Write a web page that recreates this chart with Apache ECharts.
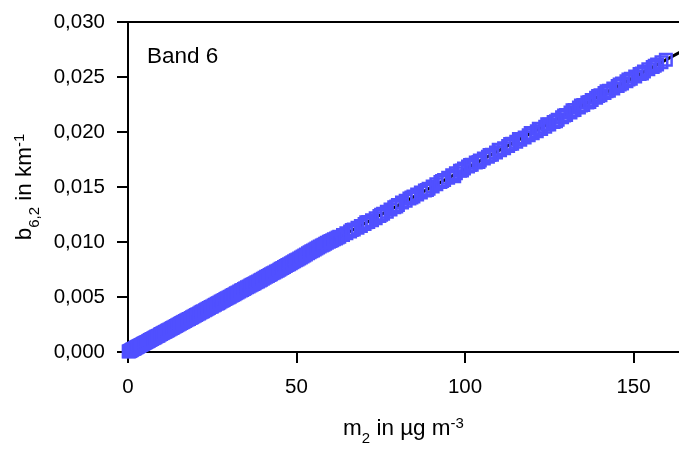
<!DOCTYPE html>
<html><head><meta charset="utf-8">
<script src="https://cdn.jsdelivr.net/npm/echarts@6/dist/echarts.min.js"></script>
<style>html,body{margin:0;padding:0;background:#fff}#c{width:679px;height:451px}</style>
</head><body><div id="c"></div>
<script>
const xTicks = [0, 50, 100, 150];
const yTicks = [0, 0.005, 0.010, 0.015, 0.020, 0.025, 0.030];
const bandLabel = 'Band 6';
const mass = [0.4,0.8,1.2,1.7,2.1,2.6,3.0,3.5,4.1,4.6,5.2,5.9,6.5,7.1,7.8,8.4,9.1,9.8,10.5,11.2,11.9,12.7,13.4,14.2,15.0,15.8,16.5,17.3,18.1,19.0,19.8,20.6,21.5,22.3,23.2,24.0,24.9,25.8,26.7,27.5,28.4,29.3,30.2,31.1,32.0,33.0,33.9,34.8,35.8,36.7,37.6,38.6,39.5,40.5,41.5,42.4,43.4,44.4,45.3,46.3,47.3,48.3,49.3,50.3,51.3,52.3,53.4,54.4,55.4,56.4,57.5,58.5,59.6,60.6,61.7,62.7,63.8,64.8,65.9,67.0,68.1,69.1,70.2,71.3,72.4,73.5,74.6,75.7,76.8,77.9,79.0,80.1,81.3,82.4,83.5,84.7,85.8,86.9,88.1,89.2,90.4,91.5,92.7,93.8,95.0,96.2,97.3,98.5,99.7,100.9,102.0,103.2,104.4,105.6,106.8,108.0,109.2,110.4,111.6,112.8,114.0,115.2,116.4,117.7,118.9,120.1,121.3,122.6,123.8,125.0,126.3,127.5,128.8,130.0,131.3,132.5,133.8,135.1,136.3,137.6,138.9,140.2,141.4,142.7,144.0,145.3,146.6,147.9,149.2,150.5,151.8,153.1,154.4,155.7,157.0,158.3,159.6,
 62.2,66.4,70.7,75.1,79.6,84.1,88.7,93.2,96.8,99.1,101.5,104.0,107.3,110.0,113.4,116.0,119.5,121.9,124.4,127.0,129.4,131.9,134.4,136.9,139.5,142.0,145.9,148.5,152.5,156.3];
const extinction = [0.00007,0.00013,0.00020,0.00028,0.00035,0.00043,0.00050,0.00058,0.00068,0.00077,0.00087,0.00098,0.00108,0.00118,0.00130,0.00140,0.00151,0.00163,0.00175,0.00186,0.00198,0.00211,0.00223,0.00236,0.00250,0.00263,0.00275,0.00288,0.00301,0.00316,0.00330,0.00343,0.00358,0.00371,0.00386,0.00399,0.00414,0.00429,0.00444,0.00458,0.00473,0.00488,0.00503,0.00518,0.00533,0.00549,0.00564,0.00579,0.00596,0.00611,0.00626,0.00642,0.00657,0.00674,0.00691,0.00706,0.00722,0.00739,0.00756,0.00773,0.00790,0.00807,0.00824,0.00842,0.00860,0.00878,0.00898,0.00915,0.00932,0.00949,0.00968,0.00984,0.01002,0.01016,0.01032,0.01047,0.01064,0.01079,0.01096,0.01113,0.01130,0.01146,0.01163,0.01181,0.01198,0.01216,0.01236,0.01256,0.01276,0.01296,0.01317,0.01336,0.01358,0.01376,0.01395,0.01414,0.01432,0.01449,0.01468,0.01485,0.01504,0.01524,0.01545,0.01564,0.01585,0.01606,0.01626,0.01648,0.01668,0.01686,0.01703,0.01722,0.01740,0.01758,0.01775,0.01794,0.01813,0.01833,0.01853,0.01873,0.01893,0.01912,0.01930,0.01950,0.01970,0.01988,0.02007,0.02028,0.02048,0.02068,0.02090,0.02111,0.02133,0.02155,0.02178,0.02200,0.02222,0.02246,0.02268,0.02290,0.02312,0.02334,0.02354,0.02374,0.02396,0.02419,0.02441,0.02462,0.02484,0.02505,0.02527,0.02549,0.02570,0.02592,0.02613,0.02635,0.02657,
 0.01040,0.01110,0.01180,0.01248,0.01322,0.01405,0.01472,0.01554,0.01598,0.01650,0.01700,0.01728,0.01790,0.01838,0.01890,0.01937,0.01992,0.02030,0.02070,0.02098,0.02150,0.02198,0.02240,0.02272,0.02328,0.02370,0.02432,0.02478,0.02532,0.02602];
const massDense = [0.2,0.6,1.0,1.4,1.9,2.4,2.8,3.3,3.8,4.4,4.9,5.5,6.2,6.8,7.5,8.1,8.8,9.5,10.2,10.9,11.6,12.3,13.1,13.8,14.6,15.4,16.2,16.9,17.7,18.6,19.4,20.2,21.1,21.9,22.8,23.6,24.5,25.4,26.3,27.1,28.0,28.9,29.8,30.7,31.6,32.5,33.5,34.4,35.3,36.3,37.2,38.1,39.1,40.0,41.0,42.0,42.9,43.9,44.9,45.8,46.8,47.8,48.8,49.8,50.8,51.8,52.8,53.9,54.9,55.9,56.9,58.0,59.0,60.1,61.1];
const extinctionDense = [0.00004,0.00010,0.00017,0.00024,0.00031,0.00040,0.00047,0.00055,0.00063,0.00073,0.00081,0.00092,0.00103,0.00113,0.00125,0.00135,0.00146,0.00158,0.00170,0.00181,0.00193,0.00205,0.00218,0.00230,0.00243,0.00256,0.00270,0.00281,0.00295,0.00309,0.00323,0.00336,0.00351,0.00365,0.00379,0.00393,0.00408,0.00423,0.00438,0.00451,0.00466,0.00481,0.00496,0.00511,0.00526,0.00541,0.00558,0.00573,0.00588,0.00604,0.00619,0.00634,0.00651,0.00666,0.00683,0.00700,0.00715,0.00731,0.00748,0.00764,0.00781,0.00798,0.00815,0.00833,0.00851,0.00869,0.00887,0.00906,0.00923,0.00940,0.00958,0.00976,0.00993,0.01009,0.01024];
const fitMass = [0, 170];
const fitB = [0, 0.02829];

const chart = echarts.init(document.getElementById('c'), null, {renderer: 'canvas'});
const FONT = 'Liberation Sans, Arial, sans-serif';
const scatterData = mass.map((m, i) => [m, extinction[i]])
  .concat(massDense.map((m, i) => [m, extinctionDense[i]]));
const fitData = fitMass.map((m, i) => [m, fitB[i]]);
const richSubSup = {
  sub: {fontFamily: FONT, fontSize: 15, verticalAlign: 'bottom', lineHeight: 26, color: '#000', padding: [0, 0, -4, 0]},
  sup: {fontFamily: FONT, fontSize: 15, verticalAlign: 'top', lineHeight: 26, color: '#000'}
};
chart.setOption({
  animation: false,
  backgroundColor: '#fff',
  grid: {left: 128, top: 22, right: 0, bottom: 96, containLabel: false},
  xAxis: [{
    type: 'value', min: 0, max: 163.5, interval: 50,
    name: 'm{sub|2} in µg m{sup|-3}', nameLocation: 'middle', nameGap: 64,
    nameTextStyle: {fontFamily: FONT, fontSize: 22.5, color: '#000', lineHeight: 26, rich: richSubSup},
    axisLine: {show: true, onZero: false, lineStyle: {color: '#000', width: 2}},
    axisTick: {show: true, inside: false, length: 11, lineStyle: {color: '#000', width: 2}},
    axisLabel: {show: true, margin: 25, fontFamily: FONT, fontSize: 20.5, color: '#000', showMaxLabel: false,
      formatter: v => xTicks.includes(v) ? String(v) : ''},
    splitLine: {show: false}
  }, {
    type: 'value', min: 0, max: 163.5, position: 'top',
    axisLine: {show: true, onZero: false, lineStyle: {color: '#000', width: 2}},
    axisTick: {show: false}, axisLabel: {show: false}, splitLine: {show: false}
  }],
  yAxis: {
    type: 'value', min: 0, max: 0.03, interval: 0.005,
    name: 'b{sub|6,2} in km{sup|-1}', nameLocation: 'middle', nameGap: 90, nameRotate: 90,
    nameTextStyle: {fontFamily: FONT, fontSize: 22.5, color: '#000', lineHeight: 26, rich: richSubSup},
    axisLine: {show: true, onZero: false, lineStyle: {color: '#000', width: 2}},
    axisTick: {show: true, inside: false, length: 11, lineStyle: {color: '#000', width: 2}},
    axisLabel: {margin: 23, fontFamily: FONT, fontSize: 20.5, color: '#000',
      formatter: v => v.toFixed(3).replace('.', ',')},
    splitLine: {show: false}
  },
  graphic: [{
    type: 'text', left: 147, top: 45,
    style: {text: bandLabel, font: '22.5px ' + FONT, fill: '#000'}
  }],
  series: [{
    type: 'line', data: fitData, showSymbol: false, symbol: 'none', z: 1,
    lineStyle: {color: '#000', width: 3}, clip: true
  }, {
    type: 'scatter', data: scatterData, symbol: 'rect', symbolSize: 11.5, z: 2,
    itemStyle: {color: 'rgba(0,0,0,0)', borderColor: '#5050ff', borderWidth: 2.5, opacity: 1}, clip: false
  }]
});
</script></body></html>
